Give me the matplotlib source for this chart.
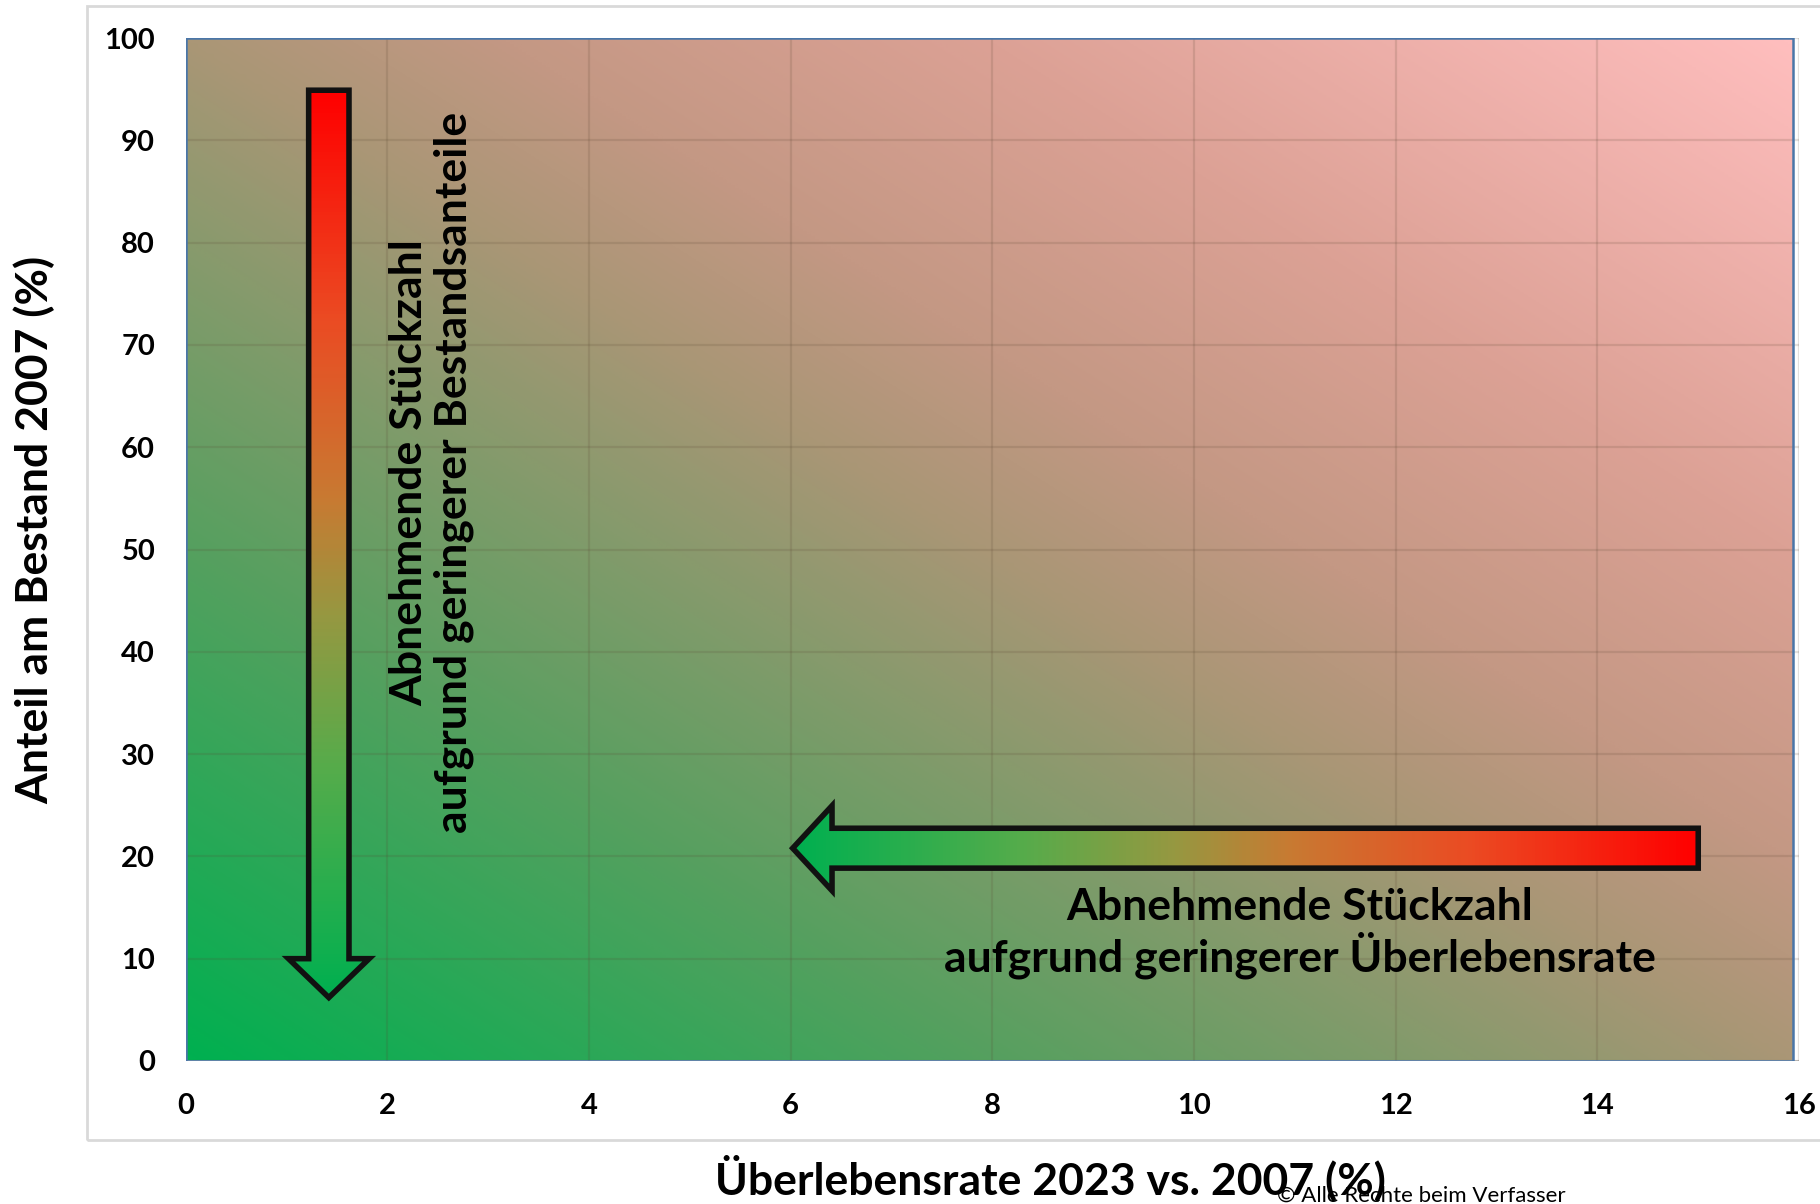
import numpy as np
import matplotlib
matplotlib.use("Agg")
import matplotlib.pyplot as plt
from matplotlib.colors import LinearSegmentedColormap
from matplotlib.patches import Polygon, Rectangle

# axis ticks
x_ticks = [0, 2, 4, 6, 8, 10, 12, 14, 16]
y_ticks = [0, 10, 20, 30, 40, 50, 60, 70, 80, 90, 100]

x_label = "Überlebensrate 2023 vs. 2007 (%)"
y_label = "Anteil am Bestand 2007 (%)"
text_v = "Abnehmende Stückzahl\naufgrund geringerer Bestandsanteile"
text_h = "Abnehmende Stückzahl\naufgrund geringerer Überlebensrate"
copyright_txt = "© Alle Rechte beim Verfasser"

# arrows in data units
v_arrow_x = 1.42
v_arrow_y = [94.9, 10.0, 6.2]      # tail, head base, tip
h_arrow_y = 20.8
h_arrow_x = [15.0, 6.41, 6.02]     # tail, head base, tip

plt.rcParams['font.family'] = ['Lato', 'DejaVu Sans']

fig = plt.figure(figsize=(18.2, 12.04), dpi=100)
ax = fig.add_axes([0.1020, 0.1188, 0.8865, 0.8496])

# outer chart frame
fig.patches.append(Rectangle((0.0478, 0.053), 1.0, 0.942, transform=fig.transFigure,
                             fill=False, edgecolor='#d9d9d9', linewidth=2))

# background diagonal gradient
bg_cmap = LinearSegmentedColormap.from_list(
    'bg', [(0.0, (0/255, 176/255, 80/255)),
           (0.25, (85/255, 160/255, 95/255)),
           (0.5, (170/255, 150/255, 118/255)),
           (0.6, (196/255, 152/255, 132/255)),
           (0.75, (220/255, 161/255, 149/255)),
           (1.0, (255/255, 190/255, 190/255))])
u, v = np.meshgrid(np.linspace(0, 1, 400), np.linspace(0, 1, 400))
tt = (u + v) / 2
x_end = 15.94
ax.imshow(tt, cmap=bg_cmap, origin='lower', extent=[0, x_end, 0, 100],
          aspect='auto', zorder=0, interpolation='bilinear')
ax.add_patch(Rectangle((0, 0), x_end, 100, fill=False, edgecolor='#4a76a8',
                       linewidth=1.8, zorder=3))

ax.set_xlim(0, 16)
ax.set_ylim(0, 100)
ax.set_xticks(x_ticks)
ax.set_yticks(y_ticks)
ax.grid(True, color='#5a4632', alpha=0.16, linewidth=1.6)
ax.set_axisbelow(False)
for s in ax.spines.values():
    s.set_visible(False)
ax.axhline(0, color='#c8c8c8', linewidth=2, zorder=2.5)
ax.tick_params(length=0, labelsize=21)
ax.tick_params(axis='y', pad=22)
ax.tick_params(axis='x', pad=23)
for lab in ax.get_xticklabels() + ax.get_yticklabels():
    lab.set_fontweight('bold')

arr_cmap = LinearSegmentedColormap.from_list(
    'arr', [(0.0, (0/255, 176/255, 80/255)),
            (0.25, (85/255, 172/255, 75/255)),
            (0.42, (150/255, 152/255, 65/255)),
            (0.55, (200/255, 122/255, 50/255)),
            (0.75, (235/255, 75/255, 35/255)),
            (1.0, (255/255, 0, 0))])


def gradient_arrow(pts, extent, vertical):
    poly = Polygon(pts, closed=True, facecolor='none', edgecolor='#111111',
                   linewidth=4, joinstyle='miter', zorder=5)
    ax.add_patch(poly)
    g = np.linspace(0, 1, 256)
    if vertical:
        grad = g[:, None] * np.ones((1, 4))
    else:
        grad = g[None, :] * np.ones((4, 1))
    im = ax.imshow(grad, cmap=arr_cmap, origin='lower', extent=extent,
                   aspect='auto', zorder=4, interpolation='bilinear')
    im.set_clip_path(poly)


# vertical arrow (red top -> green bottom)
sw, hw = 0.2, 0.40
tail, base, tip = v_arrow_y
xc = v_arrow_x
gradient_arrow([(xc - sw, tail), (xc + sw, tail), (xc + sw, base), (xc + hw, base),
                (xc, tip), (xc - hw, base), (xc - sw, base)],
               [xc - hw, xc + hw, tip, tail], True)

# horizontal arrow (green head left -> red tail right)
sh, hh = 1.95, 4.15
tail, base, tip = h_arrow_x
yc = h_arrow_y
gradient_arrow([(tail, yc - sh), (tail, yc + sh), (base, yc + sh), (base, yc + hh),
                (tip, yc), (base, yc - hh), (base, yc - sh)],
               [tip, tail, yc - hh, yc + hh], False)

ax.set_xlim(0, 16)
ax.set_ylim(0, 100)

ax.text(2.44, 57.5, text_v, rotation=90, ha='center', va='center', fontsize=32,
        fontweight='bold', linespacing=1.12, color='black', zorder=6)
ax.text(11.05, 12.5, text_h, ha='center', va='center', fontsize=32,
        fontweight='bold', linespacing=1.12, color='black', zorder=6)

fig.text(0.019, 0.56, y_label, rotation=90, ha='center', va='center',
         fontsize=32, fontweight='bold')
fig.text(0.577, 0.0216, x_label, ha='center', va='center',
         fontsize=32, fontweight='bold')
fig.text(0.7016, 0.015, copyright_txt, ha='left', va='top', fontsize=16)

fig.savefig('out.png', dpi=100)
